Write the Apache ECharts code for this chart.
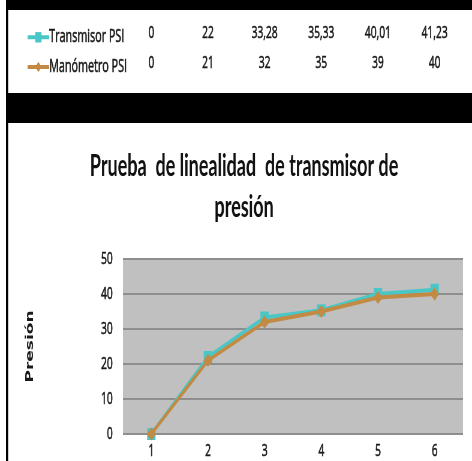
<!DOCTYPE html>
<html>
<head>
<meta charset="utf-8">
<script src="https://cdn.jsdelivr.net/npm/echarts@6/dist/echarts.min.js"></script>
<style>
  html, body { margin: 0; padding: 0; background: #fff; overflow: hidden; }
  #frame { width: 472px; height: 461px; overflow: hidden; position: relative; }
  /* the source picture is squeezed horizontally, so the chart is drawn wide and narrowed */
  #main { width: 787px; height: 461px; transform: scaleX(0.5997); transform-origin: 0 0; }
</style>
</head>
<body>
<div id="frame"><div id="main"></div></div>
<script>
var chartDom = document.getElementById('main');
var myChart = echarts.init(chartDom);

var categories = ['1', '2', '3', '4', '5', '6'];
var transmisorPSI = [0, 22, 33.28, 35.33, 40.01, 41.23];
var manometroPSI = [0, 21, 32, 35, 39, 40];
var yTicks = [0, 10, 20, 30, 40, 50];
var seriesNames = ['Transmisor PSI', 'Manómetro PSI'];

var FONT = '"Open Sans", Lato, sans-serif';
var TITLE_FONT = 'Lato, "Open Sans", sans-serif';
var INK = '#1a1a1a';
var TEAL = '#4bc6c6';
var BROWN = '#c28a42';

// a thin outline in the text colour makes the small labels a bit heavier, like the scan
var heavy = { textBorderColor: INK, textBorderWidth: 0.6 };

// table values written with a decimal comma
function fmt(v) {
  return String(v).replace('.', ',');
}

var option = {
  animation: false,
  backgroundColor: '#fff',
  title: {
    text: 'Prueba  de linealidad  de transmisor de\npresión',
    left: 402,
    textAlign: 'center',
    top: 141,
    textStyle: {
      fontFamily: TITLE_FONT,
      fontSize: 30,
      fontWeight: 'bold',
      color: '#111',
      lineHeight: 41
    }
  },
  legend: {
    orient: 'vertical',
    left: 39,
    top: 23,
    itemWidth: 36,
    itemHeight: 13,
    itemGap: 11,
    data: seriesNames,
    lineStyle: { width: 4 },
    textStyle: Object.assign({ fontFamily: FONT, fontSize: 18, color: INK, padding: [0, 0, 0, -5] }, heavy)
  },
  grid: {
    left: 205,
    right: 15,
    top: 259,
    bottom: 27,
    show: true,
    backgroundColor: '#c0c0c0',
    borderWidth: 0
  },
  xAxis: {
    type: 'category',
    data: categories,
    boundaryGap: true,
    axisLine: { show: false },
    axisTick: { show: false },
    axisLabel: Object.assign({ fontFamily: FONT, fontSize: 17, color: INK, margin: 9 }, heavy)
  },
  yAxis: {
    type: 'value',
    min: yTicks[0],
    max: yTicks[yTicks.length - 1],
    interval: 10,
    name: 'Presión',
    nameLocation: 'middle',
    nameGap: 146,
    nameRotate: 90,
    nameTextStyle: { fontFamily: 'DejaVu Sans', fontSize: 17, fontWeight: 'bold', color: INK },
    axisLine: { show: false },
    axisTick: { show: false },
    axisLabel: Object.assign({ fontFamily: FONT, fontSize: 17, color: INK, margin: 17 }, heavy),
    splitLine: { lineStyle: { color: '#8e8e8e', width: 2 } }
  },
  series: [
    {
      name: seriesNames[0],
      type: 'line',
      data: transmisorPSI,
      symbol: 'rect',
      symbolSize: [14, 12],
      lineStyle: { color: TEAL, width: 4 },
      itemStyle: { color: TEAL },
      z: 2
    },
    {
      name: seriesNames[1],
      type: 'line',
      data: manometroPSI,
      symbol: 'diamond',
      symbolSize: [15, 13],
      lineStyle: { color: BROWN, width: 4 },
      itemStyle: { color: BROWN },
      z: 3
    }
  ]
};

myChart.setOption(option);

// frame bands and the data table above the chart
var graphics = [
  { type: 'rect', shape: { x: 10, y: 0, width: 777, height: 10 }, style: { fill: '#000' }, z: 100 },
  { type: 'rect', shape: { x: 10, y: 93, width: 777, height: 30 }, style: { fill: '#000' }, z: 100 },
  { type: 'rect', shape: { x: 10, y: 0, width: 3.5, height: 461 }, style: { fill: '#000' }, z: 100 }
];
var rows = [transmisorPSI, manometroPSI];
var rowY = [33, 63];
rows.forEach(function (vals, r) {
  vals.forEach(function (v, i) {
    var px = myChart.convertToPixel({ xAxisIndex: 0 }, i);
    graphics.push({
      type: 'text',
      x: px,
      y: rowY[r],
      style: {
        text: fmt(v),
        fontFamily: FONT,
        fontSize: 17,
        fill: INK,
        stroke: INK,
        lineWidth: 0.6,
        textAlign: 'center',
        textVerticalAlign: 'middle'
      },
      z: 100
    });
  });
});
myChart.setOption({ graphic: graphics });
</script>
</body>
</html>
